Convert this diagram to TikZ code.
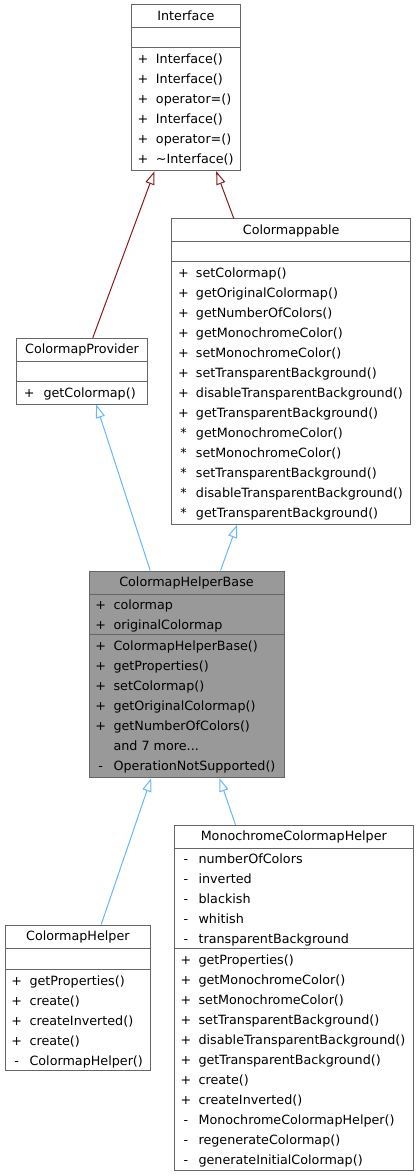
\documentclass[tikz,border=0pt]{standalone}
\usepackage{fontspec}
\setmainfont{DejaVu Sans}
\usetikzlibrary{arrows.meta,positioning,calc,fit}
\definecolor{Frame}{HTML}{666666}
\definecolor{Shade}{HTML}{999999}
\definecolor{Wine}{HTML}{8B1A1A}
\definecolor{Sky}{HTML}{63B8FF}
\colorlet{umlEdge}{Sky}
\colorlet{umlEdgeDark}{Wine}

\begin{document}
\begin{tikzpicture}[x=0.75pt,y=-0.75pt,
 cls/.style={draw=Frame,line width=0.75pt,fill=white,inner sep=0pt},
 rule/.style={draw=Frame,line width=0.75pt},
 title/.style={anchor=base,inner sep=0pt,font=\fontsize{9.55}{12}\selectfont},
 sym/.style={anchor=base,inner sep=0pt,font=\fontsize{9.55}{12}\selectfont},
 mem/.style={anchor=base west,inner sep=0pt,font=\fontsize{9.55}{12}\selectfont},
 inh/.style={-{Triangle[length=10pt,width=7pt,fill=white]},line width=0.75pt}]
 \useasboundingbox (0,0) rectangle (419,1176);
 % Interface
 \node[cls,fit={(131.7,5) (240,170.7)}] (iface) {};
 \draw[rule] (131.7,27.3) -- (240,27.3); \draw[rule] (131.7,47.7) -- (240,47.7);
 \node[title] (iface-t) at (185.85,20.5) {Interface};
 \foreach \s/\m [count=\i from 0] in {+/Interface(),+/Interface(),+/operator=(),
   +/Interface(),+/operator=(),+/\textasciitilde Interface()}{
   \node[sym] (iface-s\i) at (143,63.7+20*\i) {\s};
   \node[mem] (iface-m\i) at (155.7,63.7+20*\i) {\m};}
 % Colormappable
 \node[cls,fit={(171.7,219) (410.7,524)}] (cmap) {};
 \draw[rule] (171.7,241.7) -- (410.7,241.7); \draw[rule] (171.7,261.7) -- (410.7,261.7);
 \node[title] (cmap-t) at (291.2,234.5) {Colormappable};
 \foreach \s/\m [count=\i from 0] in {+/setColormap(),+/getOriginalColormap(),
   +/getNumberOfColors(),+/getMonochromeColor(),+/setMonochromeColor(),
   +/setTransparentBackground(),+/disableTransparentBackground(),
   +/getTransparentBackground(),*/getMonochromeColor(),*/setMonochromeColor(),
   */setTransparentBackground(),*/disableTransparentBackground(),
   */getTransparentBackground()}{
   \node[sym] (cmap-s\i) at (183.5,277.7+20*\i) {\s};
   \node[mem] (cmap-m\i) at (195.7,277.7+20*\i) {\m};}
 % ColormapProvider
 \node[cls,fit={(16.7,338.3) (147.3,404)}] (prov) {};
 \draw[rule] (16.7,361.7) -- (147.3,361.7); \draw[rule] (16.7,381.7) -- (147.3,381.7);
 \node[title] (prov-t) at (82,353.8) {ColormapProvider};
 \node[sym] (prov-s0) at (29.2,397.7) {+};
 \node[mem] (prov-m0) at (43.3,397.7) {getColormap()};
 % ColormapHelperBase
 \node[cls,fill=Shade,fit={(89,571) (284,777.7)}] (base) {};
 \draw[rule] (89,594.3) -- (284,594.3); \draw[rule] (89,634.3) -- (284,634.3);
 \node[title] (base-t) at (186.5,586.5) {ColormapHelperBase};
 \foreach \s/\m [count=\i from 0] in {+/colormap,+/originalColormap}{
   \node[sym] (base-as\i) at (100.7,609.3+20*\i) {\s};
   \node[mem] (base-a\i) at (113.3,609.3+20*\i) {\m};}
 \foreach \s/\m [count=\i from 0] in {+/ColormapHelperBase(),+/getProperties(),
   +/setColormap(),+/getOriginalColormap(),+/getNumberOfColors(),
   /{and 7 more.{}.{}.},-/OperationNotSupported()}{
   \node[sym] (base-s\i) at (100.7,650.3+20*\i) {\s};
   \node[mem] (base-m\i) at (113.3,650.3+20*\i) {\m};}
 % ColormapHelper
 \node[cls,fit={(5,925) (150.7,1070.7)}] (helper) {};
 \draw[rule] (5,948.3) -- (150.7,948.3); \draw[rule] (5,969) -- (150.7,969);
 \node[title] (helper-t) at (77.85,940.5) {ColormapHelper};
 \foreach \s/\m [count=\i from 0] in {+/getProperties(),+/create(),
   +/createInverted(),+/create(),-/ColormapHelper()}{
   \node[sym] (helper-s\i) at (16.7,985+20*\i) {\s};
   \node[mem] (helper-m\i) at (29.3,985+20*\i) {\m};}
 % MonochromeColormapHelper
 \node[cls,fit={(174.3,825.3) (413.3,1170.7)}] (mono) {};
 \draw[rule] (174.3,848.7) -- (413.3,848.7); \draw[rule] (174.3,948.7) -- (413.3,948.7);
 \node[title] (mono-t) at (293.8,840.8) {MonochromeColormapHelper};
 \foreach \s/\m [count=\i from 0] in {-/numberOfColors,-/inverted,-/blackish,
   -/whitish,-/transparentBackground}{
   \node[sym] (mono-as\i) at (186,863.7+20*\i) {\s};
   \node[mem] (mono-a\i) at (198.3,863.7+20*\i) {\m};}
 \foreach \s/\m [count=\i from 0] in {+/getProperties(),+/getMonochromeColor(),
   +/setMonochromeColor(),+/setTransparentBackground(),
   +/disableTransparentBackground(),+/getTransparentBackground(),+/create(),
   +/createInverted(),-/MonochromeColormapHelper(),-/regenerateColormap(),
   -/generateInitialColormap()}{
   \node[sym] (mono-s\i) at (186,964.7+20*\i) {\s};
   \node[mem] (mono-m\i) at (198.3,964.7+20*\i) {\m};}
 % inheritance
 \draw[inh,umlEdgeDark] ($(prov.north west)+(76.6,0)$) -- ($(iface.south west)+(23.3,0)$);
 \draw[inh,umlEdgeDark] ($(cmap.north west)+(62.6,0)$) -- ($(iface.south west)+(85,0)$);
 \draw[inh,umlEdge] ($(base.north west)+(61.7,0)$) -- ($(prov.south west)+(80,0)$);
 \draw[inh,umlEdge] ($(base.north west)+(132,0)$) -- ($(cmap.south west)+(66,0)$);
 \draw[inh,umlEdge] ($(helper.north west)+(96.7,0)$) -- ($(base.south west)+(62.7,0)$);
 \draw[inh,umlEdge] ($(mono.north west)+(61.7,0)$) -- ($(base.south west)+(131,0)$);
\end{tikzpicture}
\end{document}
